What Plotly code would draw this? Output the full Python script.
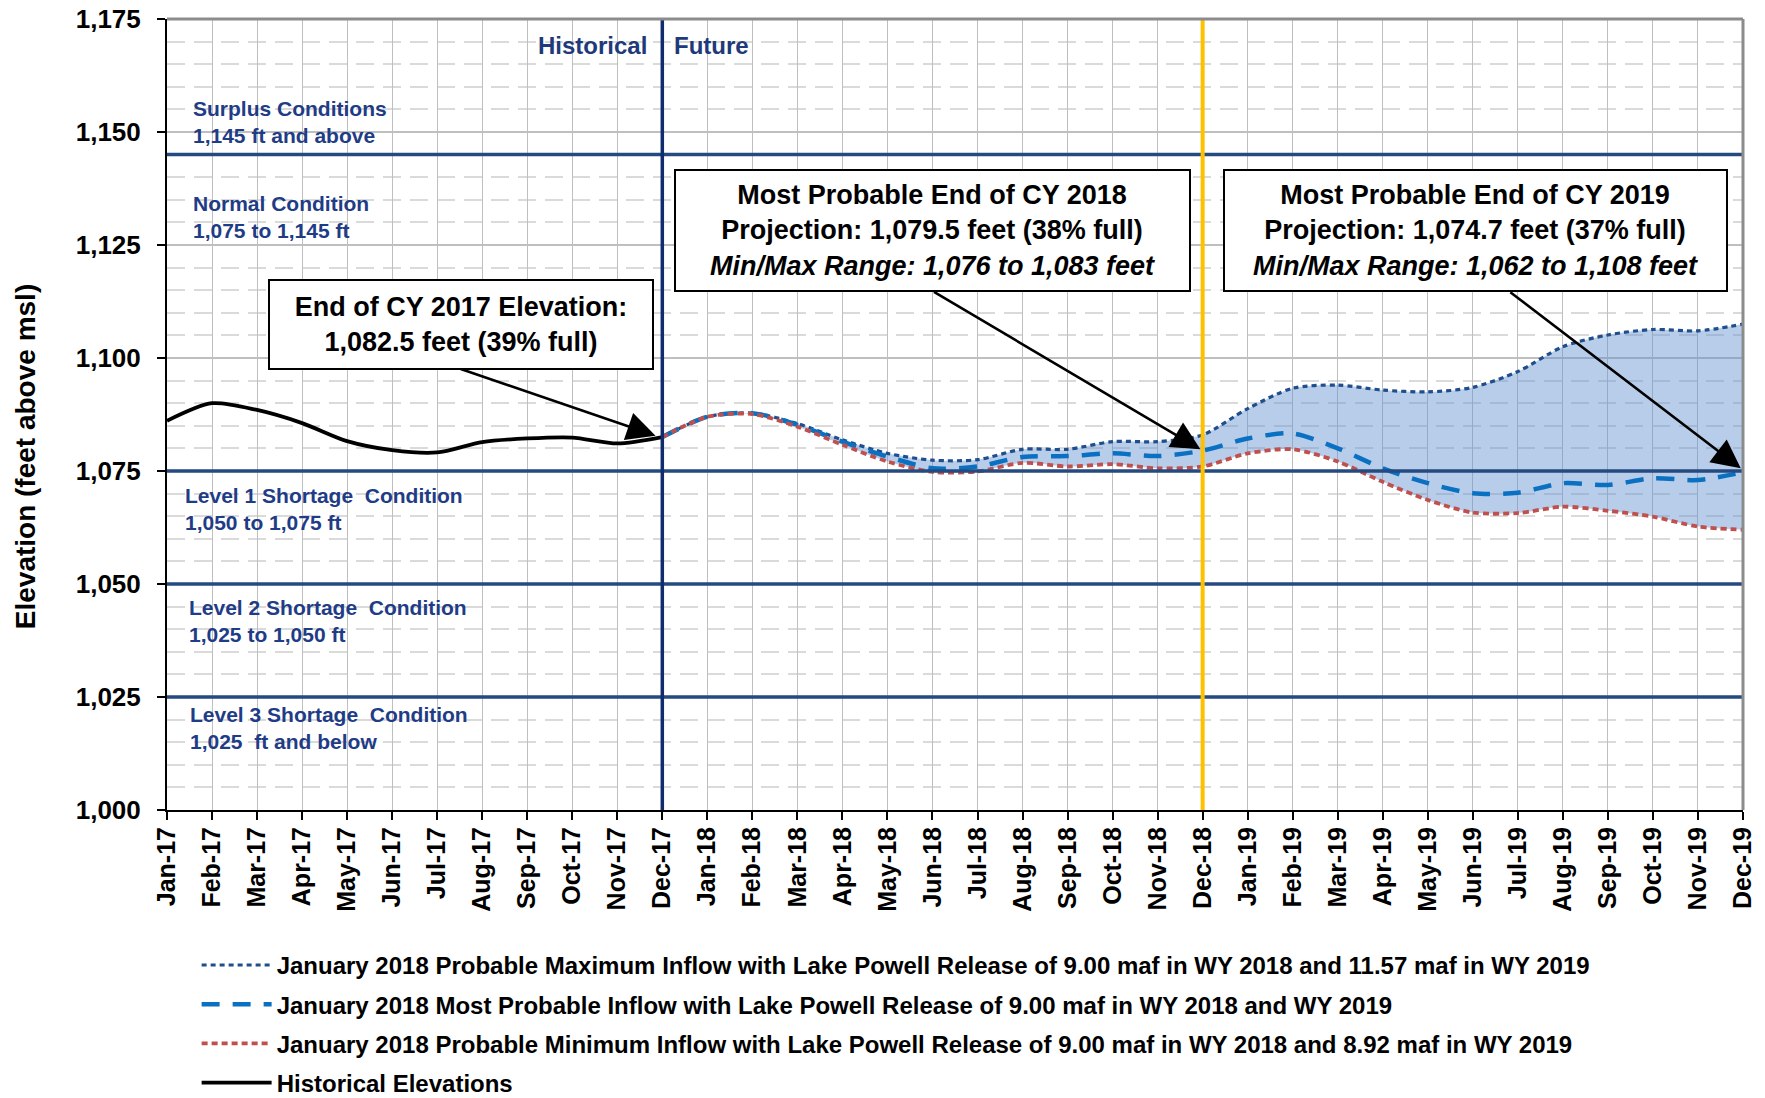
import plotly.graph_objects as go

# ---------------- data ----------------
month_names = ["Jan", "Feb", "Mar", "Apr", "May", "Jun", "Jul", "Aug", "Sep", "Oct", "Nov", "Dec"]
years = ["17", "18", "19"]
months = [f"{m}-{y}" for y in years for m in month_names]

hist_months = months[0:12]  # Jan-17 .. Dec-17
historical = [1086.1, 1090.0, 1088.5, 1085.6, 1081.6, 1079.6, 1079.1, 1081.4, 1082.2, 1082.4, 1081.1, 1082.5]

proj_months = months[11:]  # Dec-17 .. Dec-19
prob_max = [1082.5, 1087.0, 1087.8, 1085.5, 1081.9, 1078.9, 1077.4, 1077.5, 1079.8, 1079.8, 1081.5, 1081.5,
            1083.0, 1088.8, 1093.3, 1094.0, 1092.9, 1092.5, 1093.5, 1097.0, 1102.5, 1105.1, 1106.3, 1106.0, 1107.5]
most_prob = [1082.5, 1087.0, 1087.8, 1085.2, 1081.5, 1078.2, 1075.6, 1076.0, 1078.1, 1078.3, 1078.9, 1078.3,
             1079.5, 1082.2, 1083.3, 1080.0, 1075.6, 1072.3, 1070.1, 1070.2, 1072.3, 1071.9, 1073.4, 1073.0, 1074.7]
prob_min = [1082.5, 1087.0, 1087.6, 1084.8, 1080.8, 1077.1, 1074.8, 1074.9, 1076.8, 1076.0, 1076.5, 1075.6,
            1076.0, 1078.9, 1079.8, 1077.1, 1072.6, 1068.6, 1065.8, 1065.7, 1067.1, 1066.2, 1064.9, 1062.7, 1062.0]

condition_levels = [1145, 1075, 1050, 1025]
condition_labels = [
    ("Surplus Conditions<br>1,145 ft and above", 1152.2, 0.0155),
    ("Normal Condition<br>1,075 to 1,145 ft", 1131.2, 0.0155),
    ("Level 1 Shortage \u00a0Condition<br>1,050 to 1,075 ft", 1066.6, 0.0100),
    ("Level 2 Shortage \u00a0Condition<br>1,025 to 1,050 ft", 1041.8, 0.0130),
    ("Level 3 Shortage \u00a0Condition<br>1,025 \u00a0ft and below", 1018.1, 0.0136),
]

legend_names = [
    "January 2018 Probable Maximum Inflow with Lake Powell Release of 9.00 maf in WY 2018 and 11.57 maf in WY 2019",
    "January 2018 Most Probable Inflow with Lake Powell Release of 9.00 maf in WY 2018 and WY 2019",
    "January 2018 Probable Minimum Inflow with Lake Powell Release of 9.00 maf in WY 2018 and 8.92 maf in WY 2019",
    "Historical Elevations",
]

FONT = "Arial, Liberation Sans, sans-serif"
NAVY = "#0F2C6E"
COND_LINE = "#244A80"
COND_TEXT = "#1F3C86"

fig = go.Figure()

# fill band between max and min
fig.add_trace(go.Scatter(x=proj_months, y=prob_max, mode="lines", line=dict(width=0, shape="spline", smoothing=0.8),
                         showlegend=False, hoverinfo="skip"))
fig.add_trace(go.Scatter(x=proj_months, y=prob_min, mode="lines", line=dict(width=0, shape="spline", smoothing=0.8),
                         fill="tonexty", fillcolor="rgba(97,144,208,0.45)", showlegend=False, hoverinfo="skip"))

fig.add_trace(go.Scatter(x=proj_months, y=prob_max, mode="lines", name=legend_names[0], legendrank=1,
                         legendgroup="a",
                         line=dict(color="#1F4E8C", width=3.2, dash="5px,4px", shape="spline", smoothing=0.8)))
fig.add_trace(go.Scatter(x=proj_months, y=most_prob, mode="lines", name=legend_names[1], legendrank=2,
                         legendgroup="b",
                         line=dict(color="#0A70C2", width=4.5, dash="18px,13px", shape="spline", smoothing=0.8)))
fig.add_trace(go.Scatter(x=proj_months, y=prob_min, mode="lines", name=legend_names[2], legendrank=3,
                         legendgroup="c",
                         line=dict(color="#C0504D", width=3.8, dash="6px,4px", shape="spline", smoothing=0.8)))
fig.add_trace(go.Scatter(x=hist_months, y=historical, mode="lines", name=legend_names[3], legendrank=4,
                         legendgroup="d",
                         line=dict(color="black", width=3.8, shape="spline", smoothing=0.8)))

shapes = []
for lv in condition_levels:
    shapes.append(dict(type="line", xref="paper", x0=0, x1=1, yref="y", y0=lv, y1=lv,
                       line=dict(color=COND_LINE, width=3.5), layer="above"))
dec17 = months.index("Dec-17")
dec18 = months.index("Dec-18")
shapes.append(dict(type="line", xref="x", x0=dec17, x1=dec17, yref="paper", y0=0, y1=1,
                   line=dict(color=NAVY, width=3.5), layer="above"))
shapes.append(dict(type="line", xref="x", x0=dec18, x1=dec18, yref="paper", y0=0, y1=1,
                   line=dict(color="#FFC000", width=4), layer="above"))
# gray top/right border
shapes.append(dict(type="line", xref="paper", x0=0, x1=1, yref="paper", y0=1, y1=1,
                   line=dict(color="#8C8C8C", width=3), layer="above"))
shapes.append(dict(type="line", xref="paper", x0=1, x1=1, yref="paper", y0=0, y1=1,
                   line=dict(color="#8C8C8C", width=3), layer="above"))

annotations = []
for text, yv, xp in condition_labels:
    annotations.append(dict(text=text, xref="paper", x=xp, yref="y", y=yv, xanchor="left", yanchor="middle",
                            align="left", showarrow=False,
                            font=dict(family=FONT, size=21, color=COND_TEXT, weight="bold")))

annotations.append(dict(text="Historical", xref="x", x=dec17, yref="y", y=1169.1, xanchor="right", xshift=-13,
                        showarrow=False, font=dict(family=FONT, size=24, color="#1F3A7A", weight="bold")))
annotations.append(dict(text="Future", xref="x", x=dec17, yref="y", y=1169.1, xanchor="left", xshift=10,
                        showarrow=False, font=dict(family=FONT, size=24, color="#1F3A7A", weight="bold")))

# y-axis title (placed lower than centre, as in the original)
annotations.append(dict(text="Elevation (feet above msl)", xref="paper", x=-0.0898, yref="paper", y=0.4466,
                        xanchor="center", yanchor="middle", textangle=-90, showarrow=False,
                        font=dict(family=FONT, size=28, color="black", weight="bold")))

# arrows (no text)
arrow_specs = [
    (10.85, 1082.8, 6.49, 1097.7),
    (22.95, 1079.8, 17.0, 1114.8),
    (34.95, 1075.6, 29.8, 1114.8),
]
for hx, hy, tx, ty in arrow_specs:
    annotations.append(dict(text="", x=hx, y=hy, xref="x", yref="y", ax=tx, ay=ty, axref="x", ayref="y",
                            showarrow=True, arrowhead=2, arrowsize=2.2, arrowwidth=2.6, arrowcolor="black",
                            standoff=0, startstandoff=0))

box_font = dict(family=FONT, size=27, color="black", weight="bold")
annotations.append(dict(text="End of CY 2017 Elevation:<br>1,082.5 feet (39% full)",
                        x=6.52, y=1107.5, xref="x", yref="y", showarrow=False, align="center",
                        width=376, height=81, bgcolor="white", bordercolor="black", borderwidth=2, borderpad=3,
                        font=box_font))
annotations.append(dict(text="Most Probable End of CY 2018<br>Projection: 1,079.5 feet (38% full)<br>"
                             "<i>Min/Max Range: 1,076 to 1,083 feet</i>",
                        x=17.01, y=1128.1, xref="x", yref="y", showarrow=False, align="center",
                        width=507, height=113, bgcolor="white", bordercolor="black", borderwidth=2, borderpad=3,
                        font=box_font))
annotations.append(dict(text="Most Probable End of CY 2019<br>Projection: 1,074.7 feet (37% full)<br>"
                             "<i>Min/Max Range: 1,062 to 1,108 feet</i>",
                        x=29.07, y=1128.1, xref="x", yref="y", showarrow=False, align="center",
                        width=495, height=113, bgcolor="white", bordercolor="black", borderwidth=2, borderpad=3,
                        font=box_font))

fig.update_layout(
    width=1765, height=1098,
    margin=dict(l=167, r=22, t=19, b=288, autoexpand=False),
    paper_bgcolor="white", plot_bgcolor="white",
    font=dict(family=FONT, color="black"),
    shapes=shapes, annotations=annotations,
    hovermode=False,
    legend=dict(x=0.0188, y=-0.168, xanchor="left", yanchor="top", orientation="v",
                traceorder="grouped", tracegroupgap=5, itemwidth=70,
                font=dict(family=FONT, size=24, color="black", weight="bold"),
                bgcolor="rgba(0,0,0,0)"),
    xaxis=dict(type="category", categoryorder="array", categoryarray=months, range=[0, len(months) - 1],
               tickangle=-90, tickfont=dict(family=FONT, size=25, color="black", weight="bold"),
               ticks="outside", ticklen=8, tickcolor="black", tickwidth=1.5, ticklabelstandoff=-3,
               ticklabeloverflow="allow",
               showgrid=True, gridcolor="#BFBFBF", gridwidth=1,
               showline=True, linecolor="black", linewidth=2, zeroline=False, automargin=False),
    yaxis=dict(range=[1000, 1175], dtick=25, tick0=1000, tickformat=",",
               tickfont=dict(family=FONT, size=26, color="black", weight="bold"),
               ticks="outside", ticklen=8, tickcolor="black", tickwidth=1.5, ticklabelstandoff=11,
               ticklabeloverflow="allow",
               showgrid=True, gridcolor="#BFBFBF", gridwidth=1.5,
               minor=dict(dtick=5, showgrid=True, gridcolor="#DADADA", gridwidth=2, griddash="18px,9px"),
               showline=True, linecolor="black", linewidth=2, zeroline=False, automargin=False),
)

fig.write_html("out.html", config={"displayModeBar": False},
               post_script="document.body.style.margin='0';document.body.style.overflow='hidden';")
